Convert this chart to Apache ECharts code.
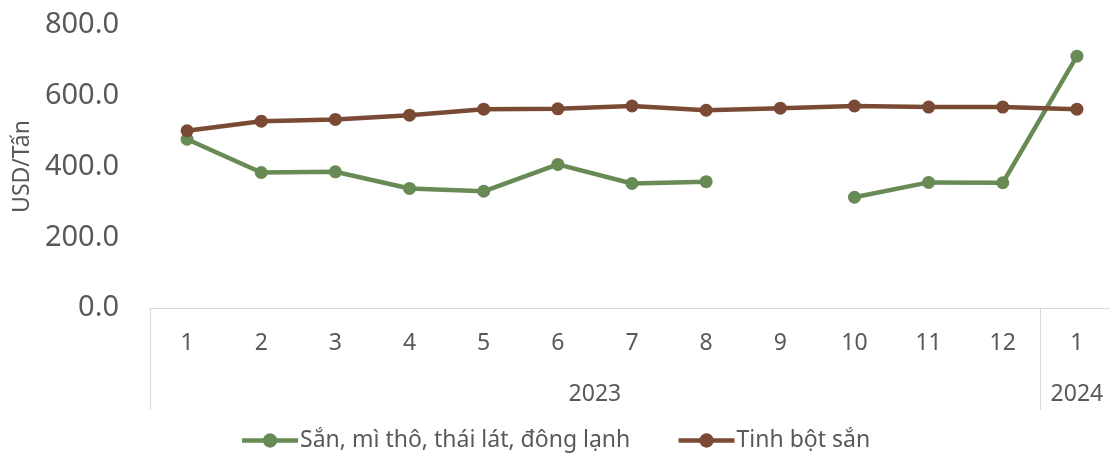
<!DOCTYPE html>
<html>
<head>
<meta charset="utf-8">
<script src="https://cdn.jsdelivr.net/npm/echarts@6/dist/echarts.min.js"></script>
<style>
  html, body { margin: 0; padding: 0; background: #fff; }
  #chart { width: 1110px; height: 461px; }
</style>
</head>
<body>
<div id="chart"></div>
<script>
// tháng (nhãn trục x), năm 2023 -> 1..12, năm 2024 -> 1
const months = ['1', '2', '3', '4', '5', '6', '7', '8', '9', '10', '11', '12', '1'];
// nhóm năm: vị trí giữa nhóm và đường phân cách (theo ô danh mục)
const yearLabels = ['2023', '2024'];
const yearCenters = [6, 12.5];
const yearBorders = [0, 12, 13];
const yTicks = [0, 200, 400, 600, 800];

// giá trị USD/Tấn
const sanMiTho = [477, 383, 385, 338, 330, 406, 352, 357, null, 313, 355, 354, 712];
const tinhBotSan = [501, 528, 533, 545, 562, 563, 571, 559, 565, 571, 568, 568, 562];

const textColor = '#595959';
const lineColor = '#d9d9d9';
const font = 'Noto Sans';

const chart = echarts.init(document.getElementById('chart'));

chart.setOption({
  animation: false,
  textStyle: { fontFamily: font },
  grid: {
    left: 150,
    right: -4,
    top: 25,
    bottom: 153,
    outerBoundsMode: 'none',
  },
  legend: {
    bottom: 4,
    left: 'center',
    itemWidth: 56,
    itemHeight: 18,
    itemGap: 46,
    lineStyle: { width: 4.5 },
    textStyle: { fontSize: 23, color: textColor, fontFamily: font, padding: [0, 0, 0, -3] },
    data: ['Sắn, mì thô, thái lát, đông lạnh', 'Tinh bột sắn'],
  },
  xAxis: [
    {
      type: 'category',
      data: months,
      boundaryGap: true,
      axisLine: { lineStyle: { color: lineColor, width: 1 } },
      axisTick: { show: false },
      axisLabel: { color: textColor, fontSize: 23, margin: 24, interval: 0 },
    },
    {
      // hàng thứ hai: nhóm theo năm
      type: 'value',
      position: 'bottom',
      min: 0,
      max: 13,
      axisLine: { show: false },
      splitLine: { show: false },
      axisTick: {
        show: true,
        customValues: yearBorders,
        length: 102,
        lineStyle: { color: lineColor, width: 1 },
      },
      axisLabel: {
        show: true,
        customValues: yearCenters,
        formatter: (v) => yearLabels[yearCenters.indexOf(v)] || '',
        color: textColor,
        fontSize: 23,
        margin: 75,
      },
    },
  ],
  yAxis: {
    type: 'value',
    min: yTicks[0],
    max: yTicks[yTicks.length - 1],
    interval: 200,
    name: 'USD/Tấn',
    nameLocation: 'middle',
    nameGap: 113,
    nameRotate: 90,
    nameTextStyle: { color: textColor, fontSize: 23, fontFamily: font },
    axisLine: { show: false },
    axisTick: { show: false },
    splitLine: { show: false },
    axisLabel: {
      color: textColor,
      fontSize: 29,
      margin: 31,
      formatter: (v) => v.toFixed(1),
    },
  },
  series: [
    {
      name: 'Sắn, mì thô, thái lát, đông lạnh',
      type: 'line',
      data: sanMiTho,
      connectNulls: false,
      symbol: 'circle',
      symbolSize: 13,
      itemStyle: { color: '#688A55' },
      lineStyle: { color: '#688A55', width: 4.5 },
    },
    {
      name: 'Tinh bột sắn',
      type: 'line',
      data: tinhBotSan,
      symbol: 'circle',
      symbolSize: 13,
      itemStyle: { color: '#7A4A35' },
      lineStyle: { color: '#7A4A35', width: 4.5 },
    },
  ],
});
window.onresize = chart.resize;
</script>
</body>
</html>
